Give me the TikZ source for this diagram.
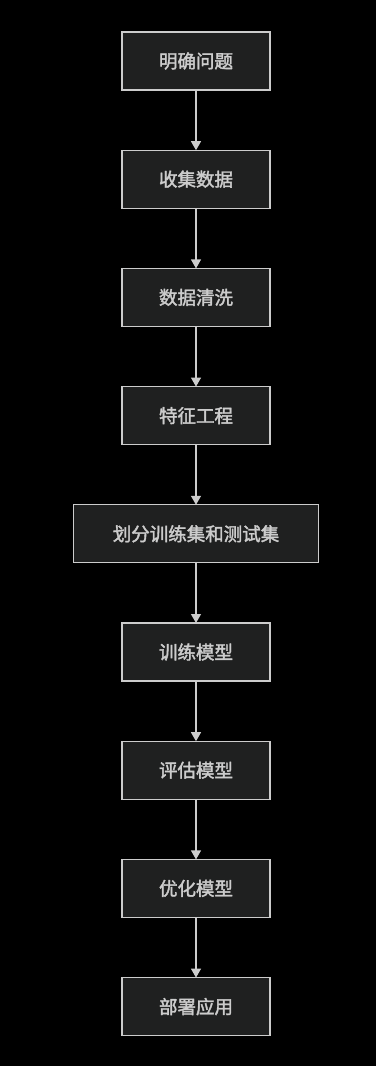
\documentclass[tikz,border=0pt]{standalone}
\usepackage{fontspec}
\newfontfamily\cjk[FakeBold=2]{Noto Sans CJK SC}
\usepackage{tikz}
\usetikzlibrary{
	arrows.meta,
	positioning
}
\definecolor{bgblack}{HTML}{000000}
\definecolor{boxfill}{HTML}{1F2020}
\definecolor{boxline}{HTML}{CCCCCC}
\definecolor{boxtext}{HTML}{CCCCCC}

\begin{document}
\begin{tikzpicture}[
		x=1pt, y=-1pt,
		step box/.style={draw=boxline, fill=boxfill, line width=1.2pt, outer sep=0pt, minimum width=148pt, minimum height=58pt, align=center, inner sep=0pt, text=boxtext, font=\cjk\fontsize{18.5}{22}\selectfont},
		wide box/.style={step box, minimum width=245pt},
		arrow/.style={-{Triangle[width=10pt,length=9pt]}, draw=boxline, line width=1.2pt}
		]
		
		% =========================
		% Canvas
		% =========================
		\fill[bgblack] (0,0) rectangle (376,1066);
		\useasboundingbox (0,0) rectangle (376,1066);
		
		% =========================
		% Workflow steps
		% =========================
		\node[step box] (problem) at (196,61) {明确问题};
		\node[step box, below=60.2pt of problem] (collect) {收集数据};
		\node[step box, below=60.2pt of collect] (clean) {数据清洗};
		\node[step box, below=60.2pt of clean] (feature) {特征工程};
		\node[wide box, below=60.2pt of feature] (split) {划分训练集和测试集};
		\node[step box, below=60.2pt of split] (train) {训练模型};
		\node[step box, below=60.2pt of train] (evaluate) {评估模型};
		\node[step box, below=60.2pt of evaluate] (optimize) {优化模型};
		\node[step box, below=60.2pt of optimize] (deploy) {部署应用};
		
		% =========================
		% Arrows between steps
		% =========================
		\draw[arrow] (problem) -- (collect);
		\draw[arrow] (collect) -- (clean);
		\draw[arrow] (clean) -- (feature);
		\draw[arrow] (feature) -- (split);
		\draw[arrow] (split) -- (train);
		\draw[arrow] (train) -- (evaluate);
		\draw[arrow] (evaluate) -- (optimize);
		\draw[arrow] (optimize) -- (deploy);
		
	\end{tikzpicture}
\end{document}
